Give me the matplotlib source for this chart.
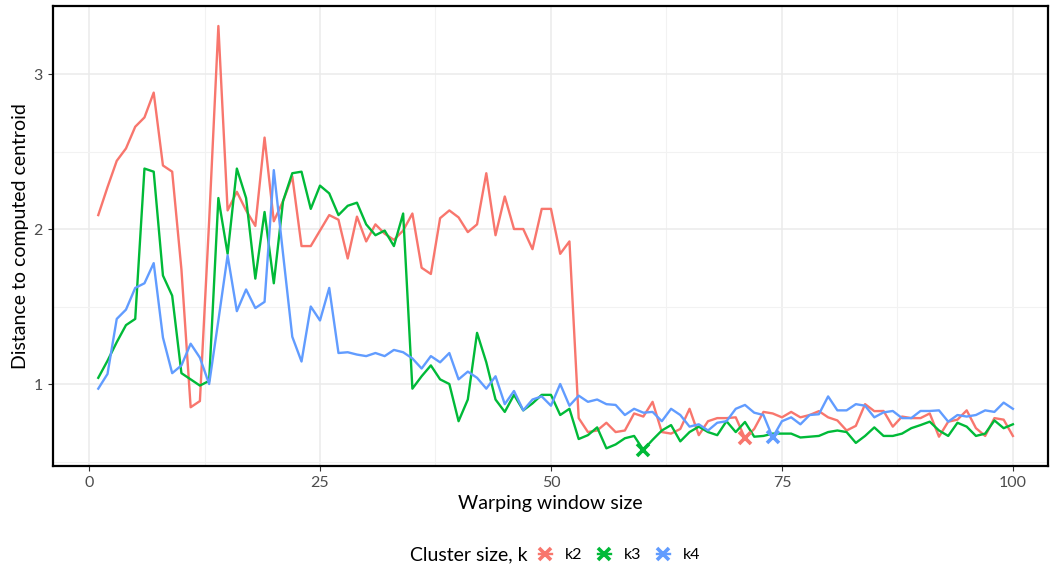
import matplotlib
matplotlib.use("Agg")
import matplotlib.pyplot as plt
from matplotlib.lines import Line2D
from matplotlib.ticker import MultipleLocator

plt.rcParams['font.family'] = ['Lato', 'DejaVu Sans']

windows = list(range(1, 101))

k2 = [2.09, 2.27, 2.44, 2.52, 2.66, 2.72, 2.88, 2.41, 2.37, 1.74,
      0.85, 0.89, 2.05, 3.31, 2.12, 2.24, 2.12, 2.02, 2.59, 2.05,
      2.18, 2.34, 1.89, 1.89, 1.99, 2.09, 2.06, 1.81, 2.08, 1.92,
      2.03, 1.97, 1.93, 1.99, 2.10, 1.75, 1.71, 2.07, 2.12, 2.075,
      1.98, 2.03, 2.36, 1.96, 2.21, 2.00, 2.00, 1.87, 2.13, 2.13,
      1.84, 1.92, 0.78, 0.69, 0.70, 0.75, 0.69, 0.70, 0.81, 0.79,
      0.885, 0.69, 0.68, 0.71, 0.84, 0.67, 0.76, 0.78, 0.78, 0.785,
      0.65, 0.71, 0.82, 0.81, 0.785, 0.82, 0.785, 0.80, 0.825, 0.785,
      0.765, 0.70, 0.73, 0.87, 0.825, 0.826, 0.725, 0.79, 0.78, 0.78,
      0.81, 0.66, 0.757, 0.77, 0.83, 0.715, 0.665, 0.78, 0.77, 0.665]

k3 = [1.04, 1.15, 1.27, 1.38, 1.42, 2.39, 2.37, 1.70, 1.57, 1.07,
      1.03, 0.99, 1.02, 2.20, 1.84, 2.39, 2.20, 1.68, 2.11, 1.65,
      2.18, 2.36, 2.37, 2.13, 2.28, 2.23, 2.09, 2.15, 2.17, 2.03,
      1.96, 1.99, 1.89, 2.10, 0.97, 1.05, 1.12, 1.03, 1.00, 0.76,
      0.90, 1.33, 1.14, 0.90, 0.82, 0.93, 0.83, 0.875, 0.93, 0.93,
      0.80, 0.84, 0.645, 0.67, 0.72, 0.585, 0.61, 0.65, 0.665, 0.575,
      0.64, 0.70, 0.735, 0.63, 0.69, 0.725, 0.69, 0.67, 0.76, 0.69,
      0.755, 0.66, 0.665, 0.68, 0.68, 0.68, 0.655, 0.66, 0.665, 0.69,
      0.70, 0.69, 0.62, 0.665, 0.72, 0.665, 0.665, 0.68, 0.715, 0.735,
      0.757, 0.70, 0.665, 0.75, 0.725, 0.665, 0.68, 0.765, 0.715, 0.74]

k4 = [0.97, 1.065, 1.42, 1.48, 1.62, 1.65, 1.78, 1.30, 1.07, 1.12,
      1.26, 1.17, 1.00, 1.41, 1.83, 1.47, 1.61, 1.49, 1.53, 2.38,
      1.84, 1.305, 1.145, 1.50, 1.41, 1.62, 1.20, 1.205, 1.19, 1.18,
      1.20, 1.18, 1.22, 1.205, 1.165, 1.10, 1.18, 1.14, 1.20, 1.03,
      1.08, 1.04, 0.97, 1.05, 0.87, 0.955, 0.83, 0.90, 0.92, 0.86,
      1.00, 0.86, 0.925, 0.885, 0.90, 0.87, 0.865, 0.80, 0.84, 0.815,
      0.82, 0.76, 0.84, 0.80, 0.725, 0.74, 0.70, 0.75, 0.76, 0.84,
      0.865, 0.815, 0.80, 0.655, 0.76, 0.785, 0.74, 0.80, 0.805, 0.92,
      0.83, 0.83, 0.87, 0.86, 0.785, 0.817, 0.826, 0.78, 0.78, 0.826,
      0.826, 0.83, 0.757, 0.80, 0.79, 0.80, 0.83, 0.82, 0.88, 0.84]

series_names = ['k2', 'k3', 'k4']
series_values = [k2, k3, k4]
best_window = [71, 60, 74]
colors = ['#F8766D', '#00BA38', '#619CFF']

x_ticks = [0, 25, 50, 75, 100]
y_ticks = [1, 2, 3]

fig = plt.figure(figsize=(10.51, 5.70), dpi=100)
ax = fig.add_axes([53/1051, 1 - 466/570, (1048 - 53)/1051, (466 - 6)/570])

for name, vals, bw, c in zip(series_names, series_values, best_window, colors):
    ax.plot(windows, vals, color=c, lw=1.7, zorder=3, solid_joinstyle='round')
    ax.plot([bw], [vals[bw - 1]], marker='x', color=c, ms=8, mew=2.6,
            linestyle='none', zorder=4)

ax.set_xlim(-3.9, 103.8)
ax.set_ylim(0.471, 3.439)
ax.set_xticks(x_ticks)
ax.set_yticks(y_ticks)
ax.xaxis.set_minor_locator(MultipleLocator(12.5))
ax.yaxis.set_minor_locator(MultipleLocator(0.5))
ax.grid(which='major', color='#EBEBEB', lw=1.1, zorder=0)
ax.grid(which='minor', color='#F2F2F2', lw=0.8, zorder=0)
ax.set_axisbelow(True)
ax.tick_params(which='major', length=3.5, width=0.8, color='#333333',
               labelsize=11.5, labelcolor='#4D4D4D', pad=4)
ax.tick_params(which='minor', length=0)
for s in ax.spines.values():
    s.set_linewidth(1.6)
    s.set_color('black')

ax.set_xlabel('Warping window size', fontsize=14, labelpad=3)
ax.set_ylabel('Distance to computed centroid', fontsize=14, labelpad=3)

fig.text(528/1051, 1 - 555/570, 'Cluster size, k', ha='right', va='center',
         fontsize=14)
handles = [Line2D([0], [0], color=c, lw=1.7, marker='x', ms=8, mew=2.6)
           for c in colors]
fig.legend(handles, series_names, loc='center left',
           bbox_to_anchor=(539/1051, 1 - 555/570), ncol=3, frameon=False,
           fontsize=11.5, handlelength=0.8, handletextpad=0.8,
           columnspacing=1.0, borderaxespad=0, borderpad=0)

fig.savefig('out.png', dpi=100)
